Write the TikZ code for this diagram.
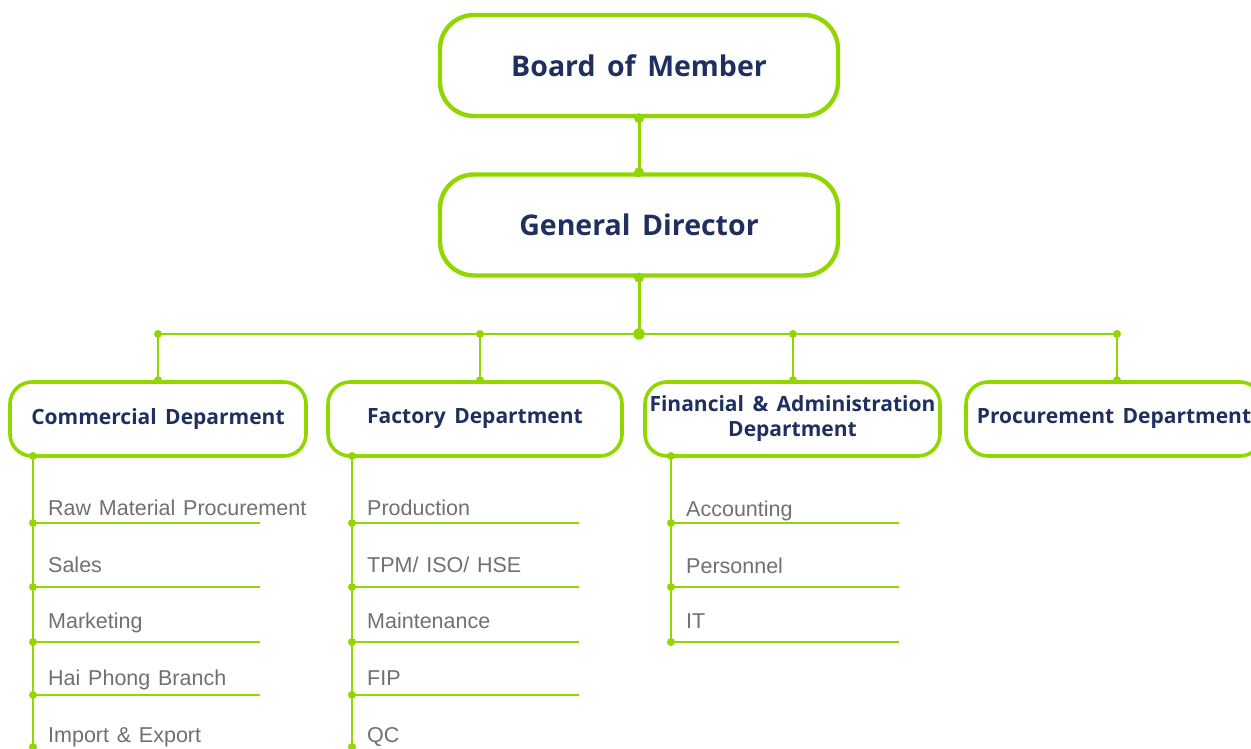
\documentclass[tikz,border=0pt]{standalone}
\usepackage{fontspec}
\setmainfont[WordSpace=1.3]{Liberation Sans}
\newfontfamily\headfont[WordSpace=1.55]{Open Sans}
\begin{document}
\definecolor{lime}{RGB}{146,214,0}
\definecolor{navy}{RGB}{31,48,96}
\definecolor{itemgray}{RGB}{112,112,112}
\begin{tikzpicture}[x=1pt,y=-1pt,
  topbox/.style={draw=lime, line width=4.4pt, rounded corners=34pt, fill=white,
    minimum width=398pt, minimum height=101pt, inner sep=0pt,
    font=\headfont\bfseries\fontsize{28.5}{32}\selectfont, text=navy},
  deptbox/.style={draw=lime, line width=3.6pt, rounded corners=22pt, fill=white,
    minimum height=74pt, inner sep=0pt, align=center,
    font=\headfont\bfseries\fontsize{21}{26}\selectfont, text=navy},
  link/.style={draw=lime, line width=2.3pt},
  mainlink/.style={draw=lime, line width=3pt},
  item/.style={anchor=base west, inner sep=0pt, text=itemgray,
    font=\fontsize{21.5}{24}\selectfont},
  dot/.style={fill=lime, circle, inner sep=0pt, minimum size=8pt},
  topdot/.style={fill=lime, circle, inner sep=0pt, minimum size=10pt},
  bigdot/.style={fill=lime, circle, inner sep=0pt, minimum size=11.5pt}]
\useasboundingbox (0,0) rectangle (1251,749);

% top of the hierarchy
\node[topbox] (board) at (639,65.5) {Board of Member};
\node[topbox] (gd) at (639,225) {General Director};

% departments
\node[deptbox, minimum width=296pt] (comm) at (158,419) {Commercial Deparment};
\node[deptbox, minimum width=294pt] (fact) at (475,419) {Factory Department};
\node[deptbox, minimum width=295pt] (fin) at (792.5,419) {Financial \& Administration\\[-1pt]Department};
\node[deptbox, minimum width=296pt] (proc) at (1114,419) {Procurement Department};

% bus coordinates
\coordinate (hub) at (639,334);
\coordinate (bA) at (158,334);
\coordinate (bB) at (480,334);
\coordinate (bC) at (793,334);
\coordinate (bD) at (1117,334);

\draw[mainlink] (board.south) -- (gd.north);
\draw[mainlink] (gd.south) -- (hub);
\draw[link] (bA) -- (bD);
\draw[link] (bA) -- (bA |- comm.north);
\draw[link] (bB) -- (bB |- fact.north);
\draw[link] (bC) -- (bC |- fin.north);
\draw[link] (bD) -- (bD |- proc.north);

\node[topdot] at (board.south) {};
\node[topdot] at (gd.north) {};
\node[topdot] at (gd.south) {};
\node[bigdot] at (hub) {};
\foreach \c in {bA,bB,bC,bD} \node[dot] at (\c) {};
\node[dot] at (bA |- comm.north) {};
\node[dot] at (bB |- fact.north) {};
\node[dot] at (bC |- fin.north) {};
\node[dot] at (bD |- proc.north) {};

% commercial sub-units
\coordinate (cTop) at (33,456);
\coordinate (cEnd) at (33,749);
\draw[link] (cTop) -- (cEnd);
\node[dot] at (cTop) {};
\foreach \t/\y/\b/\n [count=\i] in {Raw Material Procurement/523/515/c1, Sales/587/572/c2, Marketing/642/628/c3, Hai Phong Branch/695/685/c4, Import \& Export/747/742/c5}{
  \node[item] (\n) at (48,\b) {\t};
  \coordinate (\n l) at (33,\y);
  \coordinate (\n r) at (260,\y);
  \ifnum\i<5 \draw[link] (\n l) -- (\n r); \fi
  \node[dot] at (\n l) {};
}

% factory sub-units
\coordinate (fTop) at (352,456);
\coordinate (fEnd) at (352,749);
\draw[link] (fTop) -- (fEnd);
\node[dot] at (fTop) {};
\foreach \t/\y/\b/\n [count=\i] in {Production/523/515/f1, {TPM/ ISO/ HSE}/587/572/f2, Maintenance/642/628/f3, FIP/695/685/f4, QC/747/742/f5}{
  \node[item] (\n) at (367,\b) {\t};
  \coordinate (\n l) at (352,\y);
  \coordinate (\n r) at (579,\y);
  \ifnum\i<5 \draw[link] (\n l) -- (\n r); \fi
  \node[dot] at (\n l) {};
}

% financial sub-units
\coordinate (aTop) at (671,456);
\coordinate (aEnd) at (671,642);
\draw[link] (aTop) -- (aEnd);
\node[dot] at (aTop) {};
\foreach \t/\y/\b/\n in {Accounting/523/516/a1, Personnel/587/573/a2, IT/642/628/a3}{
  \node[item] (\n) at (686,\b) {\t};
  \coordinate (\n l) at (671,\y);
  \coordinate (\n r) at (899,\y);
  \draw[link] (\n l) -- (\n r);
  \node[dot] at (\n l) {};
}
\end{tikzpicture}
\end{document}
